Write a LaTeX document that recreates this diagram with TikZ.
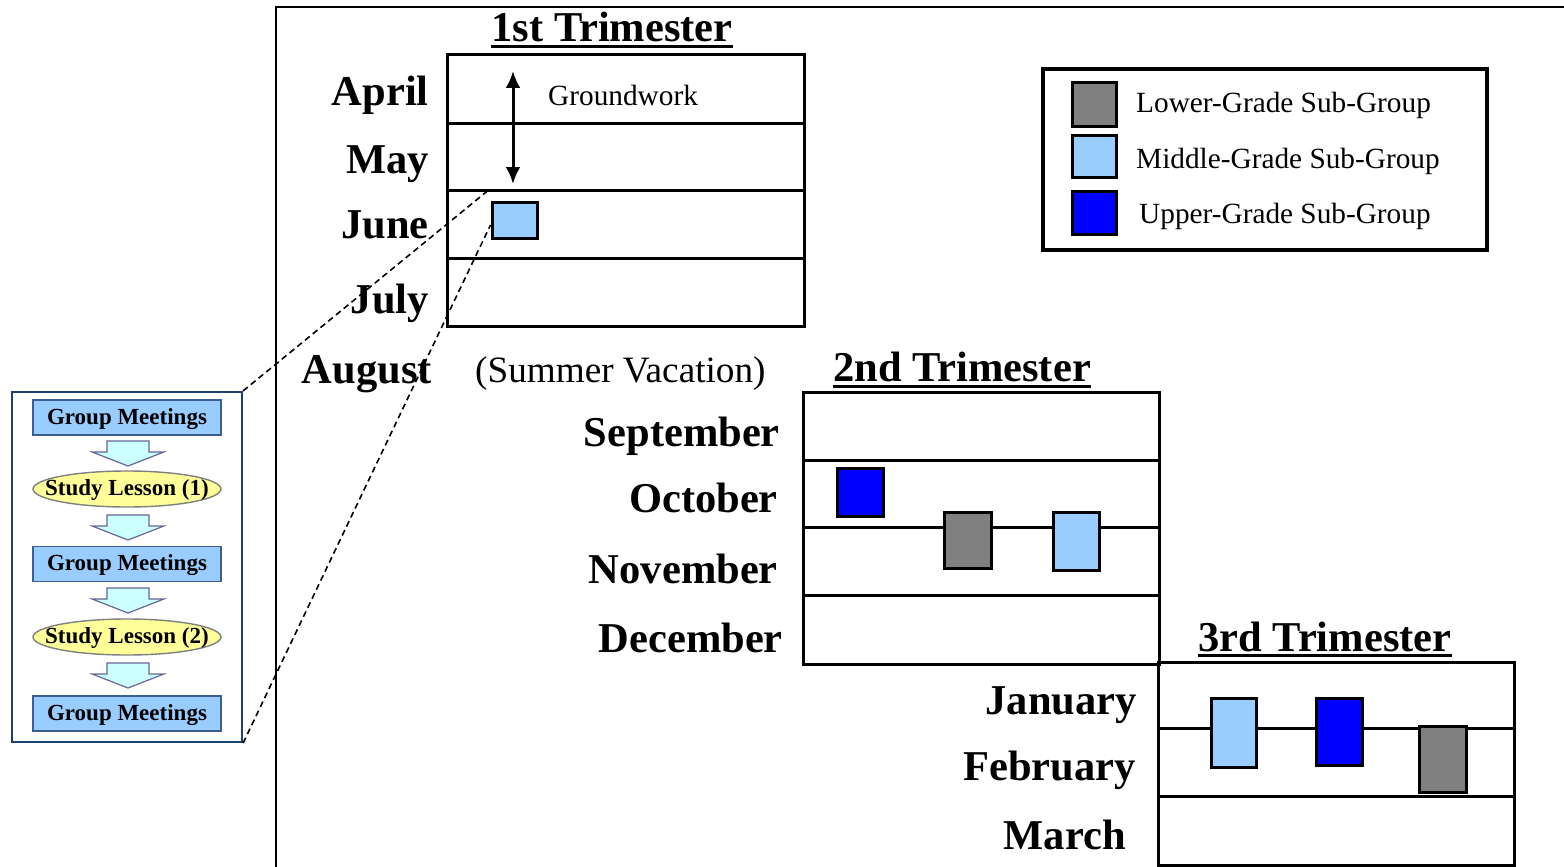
\documentclass[tikz,border=0pt]{standalone}
\usepackage{fontspec}
\setmainfont{Liberation Serif}
\usetikzlibrary{arrows.meta,shapes.geometric}
\definecolor{midgrade}{HTML}{99CCFF}
\definecolor{upgrade}{HTML}{0000FF}
\definecolor{lowgrade}{HTML}{808080}
\definecolor{lessonfill}{HTML}{FFFF99}
\definecolor{flowfill}{HTML}{CCFFFF}
\definecolor{panelline}{HTML}{1F3F6F}
\definecolor{meetline}{HTML}{3B5F8F}

\begin{document}
\begin{tikzpicture}[x=1pt,y=-1pt]
\tikzstyle{month}=[font=\bfseries\fontsize{42.5pt}{42.5pt}\selectfont,anchor=base east,inner sep=0]
\tikzstyle{head}=[font=\bfseries\fontsize{42.5pt}{42.5pt}\selectfont,anchor=base,inner sep=0]
\tikzstyle{plain}=[font=\fontsize{29.3pt}{29.3pt}\selectfont,anchor=base west,inner sep=0]
\tikzstyle{uline}=[line width=3pt]
\tikzstyle{tbl}=[line width=3pt]
\tikzstyle{grp}=[draw,line width=3pt,inner sep=0]
\tikzstyle{meet}=[draw=meetline,fill=midgrade,line width=1.4pt,minimum width=188pt,minimum height=35pt,inner sep=0,text height=16pt,text depth=3pt,font=\bfseries\fontsize{23pt}{23pt}\selectfont]
\tikzstyle{lesson}=[ellipse,draw=gray,fill=lessonfill,line width=1.4pt,minimum width=188pt,minimum height=36pt,inner xsep=-30pt,inner ysep=-5pt,text height=16pt,text depth=3pt,font=\bfseries\fontsize{23pt}{23pt}\selectfont]
\tikzstyle{flow}=[draw=gray!80!blue,fill=flowfill,line width=1.2pt,line join=miter]
\tikzstyle{zoomline}=[line width=1.6pt,dash pattern=on 6pt off 4pt]
\useasboundingbox (0,0) rectangle (1564,867);

% frame
\draw[line width=2.5pt] (1564,7) -- (276,7) -- (276,867);

% 1st trimester
\node (1) at (612,42) [head]{1st Trimester};
\draw[uline] ([yshift=-5pt]1.base west) -- ([yshift=-5pt]1.base east);
\draw[tbl] (447,55) rectangle (804,326);
\draw[tbl] (447,123) -- (804,123);
\draw[tbl] (447,190) -- (804,190);
\draw[tbl] (447,258) -- (804,258);
\node (2) at (429,105) [month]{April};
\node (3) at (429,173) [month]{May};
\node (4) at (429,238) [month]{June};
\node (5) at (429,313) [month]{July};
\node (6) at (432,383) [month]{August};
\node (7) at (548,106) [plain]{Groundwork};
\node (8) at (475,382) [plain,font=\fontsize{37.2pt}{37.2pt}\selectfont]{(Summer Vacation)};
\coordinate (a1) at (513,71);
\coordinate (a2) at (513,184);
\draw[{Latex[length=17pt,width=15pt]}-{Latex[length=17pt,width=15pt]},line width=3pt] (a1) -- (a2);
\node (9) at (514.5,220) [grp,fill=midgrade,minimum width=45pt,minimum height=36pt]{};

% 2nd trimester
\node (10) at (962,381) [head]{2nd Trimester};
\draw[uline] ([yshift=-5pt]10.base west) -- ([yshift=-5pt]10.base east);
\draw[tbl] (803,392) rectangle (1159,664);
\draw[tbl] (803,460) -- (1159,460);
\draw[tbl] (803,527) -- (1159,527);
\draw[tbl] (803,595) -- (1159,595);
\node (11) at (780,446) [month]{September};
\node (12) at (778,512) [month]{October};
\node (13) at (778,583) [month]{November};
\node (14) at (783,652) [month]{December};
\node (15) at (860,492) [grp,fill=upgrade,minimum width=46pt,minimum height=48pt]{};
\node (16) at (967.5,540) [grp,fill=lowgrade,minimum width=47pt,minimum height=56pt]{};
\node (17) at (1076,541) [grp,fill=midgrade,minimum width=46pt,minimum height=58pt]{};

% 3rd trimester
\node (18) at (1325,651) [head]{3rd Trimester};
\draw[uline] ([yshift=-4pt]18.base west) -- ([yshift=-4pt]18.base east);
\draw[tbl] (1158,662) rectangle (1514,865);
\draw[tbl] (1158,728) -- (1514,728);
\draw[tbl] (1158,796) -- (1514,796);
\node (19) at (1137,714) [month]{January};
\node (20) at (1136,780) [month]{February};
\node (21) at (1126,849) [month]{March};
\node (22) at (1233.5,732.5) [grp,fill=midgrade,minimum width=45pt,minimum height=69pt]{};
\node (23) at (1339,731.5) [grp,fill=upgrade,minimum width=46pt,minimum height=67pt]{};
\node (24) at (1442.5,759) [grp,fill=lowgrade,minimum width=47pt,minimum height=66pt]{};

% key
\node (25) at (1265,159.5) [draw,line width=4pt,minimum width=444pt,minimum height=181pt]{};
\node (26) at (1094,104.5) [grp,fill=lowgrade,minimum width=44pt,minimum height=43pt]{};
\node (27) at (1094,156) [grp,fill=midgrade,minimum width=44pt,minimum height=42pt]{};
\node (28) at (1094,212.5) [grp,fill=upgrade,minimum width=44pt,minimum height=43pt]{};
\node (29) at (1136,112) [plain]{Lower-Grade Sub-Group};
\node (30) at (1136,168) [plain]{Middle-Grade Sub-Group};
\node (31) at (1139,223) [plain]{Upper-Grade Sub-Group};

% june close-up
\node (32) at (127,567) [draw=panelline,line width=2.2pt,minimum width=230pt,minimum height=350pt]{};
\node (33) at (127,417.5) [meet]{Group Meetings};
\node (34) at (127,489) [lesson]{Study Lesson (1)};
\node (35) at (127,564) [meet]{Group Meetings};
\node (36) at (127,637) [lesson]{Study Lesson (2)};
\node (37) at (127,713.5) [meet]{Group Meetings};
\draw[flow] (107,441) -- (149,441) -- (149,452) -- (164,452) -- (128,466) -- (92,452) -- (107,452) -- cycle;
\draw[flow] (107,515) -- (149,515) -- (149,526) -- (164,526) -- (128,540) -- (92,526) -- (107,526) -- cycle;
\draw[flow] (107,588) -- (149,588) -- (149,599) -- (164,599) -- (128,613) -- (92,599) -- (107,599) -- cycle;
\draw[flow] (107,663) -- (149,663) -- (149,674) -- (164,674) -- (128,688) -- (92,674) -- (107,674) -- cycle;

\draw[zoomline] (32.north east) -- ([yshift=12pt]9.north west);
\draw[zoomline] (32.south east) -- ([yshift=-5pt]9.west);
\end{tikzpicture}
\end{document}
